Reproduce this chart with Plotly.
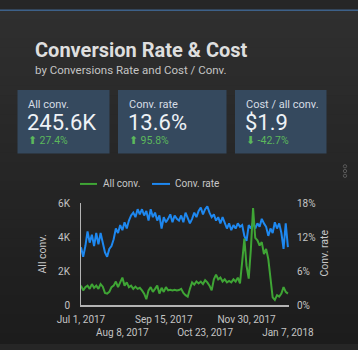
import pandas as pd
import plotly.graph_objects as go

# ---------------- data ----------------
start_date = "2017-07-01"
step_days = 2
all_conv = [1140, 860, 1050, 1140, 950, 1230, 1010, 1140, 950, 1230,
            1080, 710, 670, 770, 1050, 1140, 1380, 1050, 1330, 1610,
            1140, 1330, 1050, 1140, 950, 1080, 950, 1010, 860, 670,
            340, 860, 1050, 770, 950, 1140, 670, 1010, 770, 1050,
            860, 900, 860, 900, 860, 880, 950, 710, 580, 490,
            950, 1330, 1200, 1380, 1270, 1380, 1230, 1460, 1330, 1140,
            860, 1510, 1790, 1510, 1610, 1380, 1510, 1330, 1420, 1330,
            1510, 1380, 1610, 1270, 2540, 3900, 2300, 1550, 3300, 5700,
            3950, 3800, 3500, 3700, 3000, 3300, 2700, 1400, 450, 300,
            580, 490, 670, 1050, 770, 670]
conv_rate = [10.2, 8.5, 10.4, 13.0, 11.0, 12.4, 10.4, 12.7, 10.7, 12.7,
             11.0, 9.3, 8.5, 9.9, 10.4, 11.6, 13.5, 12.7, 14.1, 13.2,
             14.6, 13.5, 14.9, 15.8, 16.3, 15.5, 16.9, 16.0, 16.9, 15.8,
             16.6, 14.9, 16.9, 15.5, 16.3, 14.9, 15.8, 13.5, 15.5, 14.6,
             15.2, 16.0, 14.6, 15.8, 15.2, 14.9, 15.8, 14.6, 16.3, 15.5,
             14.4, 15.2, 16.3, 15.5, 16.6, 17.2, 16.0, 16.9, 17.4, 16.3,
             15.5, 16.0, 14.9, 15.5, 14.4, 15.5, 14.6, 13.5, 14.4, 13.2,
             14.1, 13.5, 14.4, 13.8, 14.1, 12.2, 11.3, 14.1, 13.5, 14.6,
             13.5, 14.4, 13.8, 15.2, 14.4, 13.8, 12.2, 13.5, 12.7, 14.6,
             13.5, 14.4, 12.7, 9.9, 14.4, 10.2]
dates = pd.date_range(start_date, periods=len(all_conv), freq=f"{step_days}D")

x_tick_vals = ["2017-07-01", "2017-08-08", "2017-09-15", "2017-10-23", "2017-11-30", "2018-01-07"]
x_tick_text = ["Jul 1, 2017", "<br>Aug 8, 2017", "Sep 15, 2017", "<br>Oct 23, 2017",
               "Nov 30, 2017", "<br>Jan 7, 2018"]
left_tick_vals = [0, 2000, 4000, 6000]
left_tick_text = ["0", "2K", "4K", "6K"]
right_tick_vals = [0, 6, 12, 18]
right_tick_text = ["0%", "6%", "12%", "18%"]

card_labels = ["All conv.", "Conv. rate", "Cost / all conv."]
card_values = ["245.6K", "13.6%", "$1.9"]
card_deltas = ["⬆ 27.4%", "⬆ 95.8%", "⬇ -42.7%"]

title_text = "Conversion Rate & Cost"
subtitle_text = "by Conversions Rate and Cost / Conv."
series_names = ["All conv.", "Conv. rate"]

# ---------------- layout helpers ----------------
W, H = 358, 350
ML, MR, MT, MB = 81, 69, 203, 40
PW, PH = W - ML - MR, H - MT - MB


def PX(px):
    return (px - ML) / PW


def PY(py):
    return (H - MB - py) / PH


GREEN = "#3fa535"
BLUE = "#1e88f0"
FONT = "Roboto"

fig = go.Figure()
fig.add_trace(go.Scatter(x=dates, y=all_conv, name=series_names[0], yaxis="y2",
                         mode="lines", line=dict(color=GREEN, width=2), showlegend=False))
fig.add_trace(go.Scatter(x=dates, y=conv_rate, name=series_names[1], yaxis="y",
                         mode="lines", line=dict(color=BLUE, width=2), showlegend=False))

shapes = []
# background gradient
n = 35
top = (47, 47, 47)
bot = (28, 28, 28)
for i in range(n):
    t = i / (n - 1)
    c = tuple(int(round(top[k] + (bot[k] - top[k]) * t)) for k in range(3))
    y0 = H * i / n
    y1 = H * (i + 1) / n + 1
    shapes.append(dict(type="rect", xref="paper", yref="paper", layer="below",
                       x0=PX(0), x1=PX(W), y0=PY(y1), y1=PY(y0),
                       line=dict(width=0), fillcolor=f"rgb{c}"))
# top blue strip
shapes.append(dict(type="rect", xref="paper", yref="paper", layer="below",
                   x0=PX(0), x1=PX(W), y0=PY(1.5), y1=PY(0),
                   line=dict(width=0), fillcolor="#3d6189"))

annotations = []
annotations.append(dict(text=f"<b>{title_text}</b>", x=PX(33), y=PY(42), xref="paper", yref="paper",
                        xanchor="left", yanchor="middle", showarrow=False,
                        font=dict(family=FONT, size=20, color="#dedede")))
annotations.append(dict(text=subtitle_text, x=PX(33), y=PY(63.5), xref="paper", yref="paper",
                        xanchor="left", yanchor="middle", showarrow=False,
                        font=dict(family=FONT, size=11.5, color="#c4c4c4")))

# cards
card_x = [(17.5, 109.5), (118, 226.5), (235, 326.5)]
for (x0, x1), lab, val, dlt in zip(card_x, card_labels, card_values, card_deltas):
    shapes.append(dict(type="rect", xref="paper", yref="paper", layer="below",
                       x0=PX(x0), x1=PX(x1), y0=PY(151), y1=PY(84.5),
                       line=dict(width=0), fillcolor="#35495e"))
    tx = x0 + 8.5
    annotations.append(dict(text=lab, x=PX(tx), y=PY(99.5), xref="paper", yref="paper",
                            xanchor="left", yanchor="middle", showarrow=False,
                            font=dict(family=FONT, size=11, color="#d6dde5")))
    annotations.append(dict(text=val, x=PX(tx - 1), y=PY(118.5), xref="paper", yref="paper",
                            xanchor="left", yanchor="middle", showarrow=False,
                            font=dict(family=FONT, size=22, color="#eef2f6")))
    annotations.append(dict(text=dlt, x=PX(tx), y=PY(137.5), xref="paper", yref="paper",
                            xanchor="left", yanchor="middle", showarrow=False,
                            font=dict(family=FONT, size=10.5, color="#5cb85c")))

# manual legend
leg_y = 183
shapes.append(dict(type="line", xref="paper", yref="paper", x0=PX(80), x1=PX(97),
                   y0=PY(leg_y), y1=PY(leg_y), line=dict(color=GREEN, width=2)))
annotations.append(dict(text=series_names[0], x=PX(101), y=PY(leg_y), xref="paper", yref="paper",
                        xanchor="left", yanchor="middle", showarrow=False,
                        font=dict(family=FONT, size=10, color="#c8c8c8")))
shapes.append(dict(type="line", xref="paper", yref="paper", x0=PX(152), x1=PX(170),
                   y0=PY(leg_y), y1=PY(leg_y), line=dict(color=BLUE, width=2)))
annotations.append(dict(text=series_names[1], x=PX(173), y=PY(leg_y), xref="paper", yref="paper",
                        xanchor="left", yanchor="middle", showarrow=False,
                        font=dict(family=FONT, size=10, color="#c8c8c8")))

# axis titles
annotations.append(dict(text=series_names[0], x=PX(42), y=PY(257), xref="paper", yref="paper",
                        xanchor="center", yanchor="middle", showarrow=False, textangle=-90,
                        font=dict(family=FONT, size=10.5, color="#c8c8c8")))
annotations.append(dict(text=series_names[1], x=PX(325), y=PY(256), xref="paper", yref="paper",
                        xanchor="center", yanchor="middle", showarrow=False, textangle=-90,
                        font=dict(family=FONT, size=10.5, color="#c8c8c8")))

# kebab icon
for cy in (164.5, 169.5, 174.5):
    shapes.append(dict(type="circle", xref="paper", yref="paper",
                       x0=PX(343.3), x1=PX(346.7), y0=PY(cy + 1.7), y1=PY(cy - 1.7),
                       line=dict(color="#5a5a5a", width=1)))

tick_font = dict(family=FONT, size=10, color="#c4c4c4")
fig.update_layout(
    width=W, height=H,
    margin=dict(l=ML, r=MR, t=MT, b=MB, pad=0),
    paper_bgcolor="#262626", plot_bgcolor="rgba(0,0,0,0)",
    showlegend=False,
    shapes=shapes, annotations=annotations,
    xaxis=dict(type="date", range=["2017-07-01", "2018-01-08"],
               tickvals=x_tick_vals, ticktext=x_tick_text, tickangle=0,
               showgrid=False, zeroline=False, showline=True, linecolor="#b4b4b4", linewidth=1.5,
               ticks="outside", ticklen=4, tickcolor="rgba(0,0,0,0)", tickfont=tick_font),
    yaxis=dict(range=[0, 18], tickvals=right_tick_vals, ticktext=right_tick_text, side="right",
               showgrid=False, zeroline=False, showline=False,
               ticks="outside", ticklen=5, tickcolor="rgba(0,0,0,0)", tickfont=tick_font),
    yaxis2=dict(range=[0, 6000], tickvals=left_tick_vals, ticktext=left_tick_text,
                overlaying="y", side="left", showgrid=False, zeroline=False,
                showline=True, linecolor="#b4b4b4", linewidth=1,
                ticks="outside", ticklen=8, tickcolor="rgba(0,0,0,0)", tickfont=tick_font),
)

fig.write_html("out.html")
